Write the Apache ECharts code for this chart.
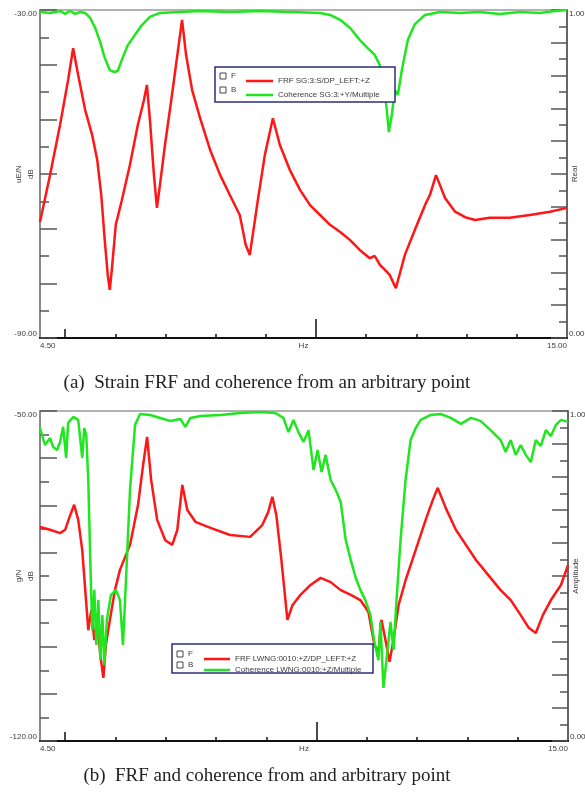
<!DOCTYPE html>
<html><head><meta charset="utf-8">
<script src="https://cdn.jsdelivr.net/npm/echarts@6/dist/echarts.min.js"></script>
<style>html,body{margin:0;padding:0;background:#fff}#c{width:585px;height:795px}</style>
</head><body><div id="c"></div><script>
// ---------- data ----------
const topFrf = [[4.50,-68.8],[4.70,-60.2],[4.90,-51.0],[5.06,-42.8],[5.16,-37.0],[5.26,-41.9],[5.40,-48.3],[5.54,-52.9],[5.64,-57.4],[5.72,-63.8],[5.79,-72.1],[5.85,-78.5],[5.89,-81.2],[5.93,-77.6],[6.01,-69.3],[6.13,-64.8],[6.29,-58.4],[6.45,-51.0],[6.57,-46.5],[6.63,-43.7],[6.69,-50.1],[6.77,-60.2],[6.83,-66.2],[6.89,-62.0],[6.99,-54.7],[7.13,-45.5],[7.25,-37.3],[7.33,-31.8],[7.41,-38.2],[7.53,-44.6],[7.69,-49.8],[7.89,-55.6],[8.09,-60.2],[8.28,-63.8],[8.48,-67.5],[8.60,-73.0],[8.68,-74.8],[8.84,-64.8],[8.98,-56.5],[9.14,-49.8],[9.28,-54.7],[9.48,-59.3],[9.68,-62.9],[9.88,-65.7],[10.08,-67.5],[10.28,-69.3],[10.48,-70.6],[10.68,-72.1],[10.87,-73.9],[11.07,-75.4],[11.17,-75.0],[11.27,-76.6],[11.37,-77.5],[11.47,-78.5],[11.59,-80.9],[11.77,-74.8],[11.97,-70.2],[12.17,-65.7],[12.27,-63.8],[12.39,-60.2],[12.57,-64.4],[12.77,-66.9],[12.97,-67.9],[13.17,-68.4],[13.46,-68.0],[13.86,-68.0],[14.26,-67.5],[14.66,-66.9],[15.00,-66.2]];
const topCoh = [[4.50,0.994],[4.70,0.991],[4.90,0.997],[5.00,0.988],[5.10,0.997],[5.20,0.988],[5.30,0.994],[5.40,0.991],[5.50,0.976],[5.60,0.945],[5.70,0.902],[5.79,0.854],[5.89,0.817],[5.97,0.811],[6.05,0.814],[6.13,0.848],[6.25,0.893],[6.39,0.924],[6.53,0.954],[6.69,0.979],[6.89,0.991],[7.29,0.994],[7.69,0.997],[8.28,0.994],[8.88,0.997],[9.48,0.994],[10.08,0.991],[10.28,0.985],[10.48,0.970],[10.68,0.945],[10.87,0.909],[11.03,0.884],[11.17,0.863],[11.27,0.832],[11.35,0.771],[11.41,0.695],[11.45,0.628],[11.51,0.680],[11.57,0.756],[11.63,0.741],[11.71,0.817],[11.83,0.909],[11.97,0.957],[12.17,0.985],[12.47,0.994],[12.87,0.991],[13.26,0.994],[13.66,0.988],[14.06,0.994],[14.46,0.991],[14.76,0.997],[15.00,1.000]];
const botFrf = [[4.50,-74.6],[4.70,-75.2],[4.90,-75.9],[5.00,-75.2],[5.10,-72.1],[5.18,-69.9],[5.26,-73.1],[5.34,-79.5],[5.40,-88.0],[5.46,-96.5],[5.52,-92.2],[5.58,-98.6],[5.64,-94.3],[5.70,-101.8],[5.76,-106.6],[5.81,-99.6],[5.89,-94.3],[5.99,-88.0],[6.09,-83.7],[6.29,-78.4],[6.45,-69.9],[6.55,-61.5],[6.63,-55.5],[6.71,-64.6],[6.83,-73.1],[6.99,-77.4],[7.13,-78.4],[7.23,-75.2],[7.33,-65.7],[7.43,-71.0],[7.59,-73.5],[7.89,-74.8],[8.28,-76.3],[8.68,-76.7],[8.92,-74.2],[9.04,-71.4],[9.12,-68.2],[9.20,-72.1],[9.30,-81.6],[9.42,-94.3],[9.52,-91.2],[9.68,-89.0],[9.88,-86.9],[10.08,-85.4],[10.28,-86.3],[10.48,-88.0],[10.68,-89.0],[10.87,-90.1],[11.03,-92.6],[11.15,-99.6],[11.23,-101.1],[11.29,-94.3],[11.37,-98.6],[11.45,-103.2],[11.53,-98.6],[11.63,-91.2],[11.77,-85.9],[11.97,-79.5],[12.17,-73.1],[12.31,-68.9],[12.41,-66.3],[12.57,-70.6],[12.77,-75.2],[12.97,-78.4],[13.17,-81.6],[13.46,-85.4],[13.66,-88.0],[13.86,-90.1],[14.06,-93.3],[14.22,-96.0],[14.36,-97.1],[14.50,-93.3],[14.66,-90.1],[14.86,-86.9],[15.00,-82.7]];
const botCoh = [[4.50,0.948],[4.60,0.897],[4.70,0.918],[4.76,0.891],[4.84,0.882],[4.90,0.906],[4.96,0.952],[5.02,0.858],[5.06,0.964],[5.16,0.982],[5.26,0.973],[5.34,0.858],[5.38,0.948],[5.42,0.927],[5.46,0.791],[5.50,0.548],[5.54,0.336],[5.58,0.458],[5.62,0.291],[5.66,0.427],[5.70,0.245],[5.74,0.382],[5.78,0.230],[5.83,0.367],[5.91,0.442],[6.01,0.458],[6.09,0.427],[6.15,0.291],[6.21,0.488],[6.29,0.761],[6.39,0.958],[6.49,0.991],[6.69,0.988],[6.89,0.979],[7.09,0.970],[7.29,0.976],[7.39,0.952],[7.49,0.979],[7.69,0.985],[8.09,0.988],[8.48,0.994],[8.88,0.997],[9.18,0.994],[9.34,0.979],[9.44,0.936],[9.54,0.973],[9.64,0.936],[9.74,0.906],[9.84,0.942],[9.94,0.821],[10.02,0.882],[10.10,0.815],[10.18,0.867],[10.28,0.791],[10.38,0.761],[10.48,0.724],[10.58,0.609],[10.68,0.548],[10.78,0.494],[10.87,0.458],[10.97,0.427],[11.07,0.382],[11.15,0.300],[11.23,0.245],[11.27,0.361],[11.33,0.161],[11.39,0.245],[11.47,0.361],[11.53,0.276],[11.59,0.427],[11.67,0.609],[11.77,0.791],[11.87,0.912],[11.97,0.948],[12.07,0.973],[12.27,0.988],[12.47,0.991],[12.67,0.979],[12.87,0.961],[13.07,0.979],[13.26,0.970],[13.46,0.942],[13.66,0.912],[13.76,0.876],[13.86,0.912],[13.96,0.867],[14.06,0.897],[14.16,0.867],[14.26,0.845],[14.36,0.912],[14.46,0.894],[14.56,0.942],[14.66,0.924],[14.76,0.958],[14.86,0.973],[15.00,0.967]];

const freqRange = [4.5, 15];
const xTickHz = [5, 6, 7, 8, 9, 10, 11, 12, 13, 14];
const xLabelHz = [4.5, 15];
const topDbRange = [-90, -30];
const botDbRange = [-120, -50];
const cohRange = [0, 1];
const topNames = ['FRF SG:3:S/DP_LEFT:+Z', 'Coherence SG:3:+Y/Multiple'];
const botNames = ['FRF LWNG:0010:+Z/DP_LEFT:+Z', 'Coherence LWNG:0010:+Z/Multiple'];
const topUnits = ['uE/N\ndB', 'Real'];
const botUnits = ['g/N\ndB', 'Amplitude'];
const captions = ['(a)  Strain FRF and coherence from an arbitrary point', '(b)  FRF and coherence from and arbitrary point'];

// ---------- styling ----------
const RED = '#ff1616', GREEN = '#1fe61f';
const SANS = 'Liberation Sans, Arial, sans-serif';
const TXT = '#3a3a3a';

function xAxes(g) {
  const base = {type:'value', gridIndex:g, min:freqRange[0], max:freqRange[1], position:'bottom', splitLine:{show:false}};
  return [
    Object.assign({}, base, {
      axisLine:{lineStyle:{color:'#111', width:2}},
      axisTick:{inside:true, length:4, customValues:xTickHz, lineStyle:{color:'#111', width:1.5}},
      axisLabel:{customValues:xLabelHz, formatter:v=>v.toFixed(2), alignMinLabel:'left', alignMaxLabel:'right', fontSize:8, color:TXT, margin:4, fontFamily:SANS},
      name:'Hz', nameLocation:'middle', nameGap:4, nameMoveOverlap:false, nameTextStyle:{fontSize:8, color:TXT, fontFamily:SANS}
    }),
    Object.assign({}, base, {axisLine:{show:false}, axisLabel:{show:false},
      axisTick:{inside:true, length:9, customValues:[5], lineStyle:{color:'#111', width:1.5}}}),
    Object.assign({}, base, {axisLine:{show:false}, axisLabel:{show:false},
      axisTick:{inside:true, length:19, customValues:[10], lineStyle:{color:'#111', width:1.5}}})
  ];
}
function yAxes(g, dbRange, units) {
  return [
    {type:'value', gridIndex:g, min:dbRange[0], max:dbRange[1], interval:10, position:'left',
      axisLine:{show:true, lineStyle:{color:'#8a8a8a', width:2}},
      axisTick:{show:true, inside:true, length:17, lineStyle:{color:'#555', width:1.5}},
      minorTick:{show:true, splitNumber:2, length:9, lineStyle:{color:'#555', width:1.5}},
      axisLabel:{formatter:v=>(v===dbRange[0]||v===dbRange[1])?v.toFixed(2):'', fontSize:8, color:TXT, margin:3, fontFamily:SANS,
        verticalAlignMinLabel:'bottom', verticalAlignMaxLabel:'top'},
      splitLine:{show:false},
      name:units[0], nameLocation:'middle', nameRotate:90, nameGap:3, nameMoveOverlap:false,
      nameTextStyle:{fontSize:8, lineHeight:12, color:TXT, fontFamily:SANS}},
    {type:'value', gridIndex:g, min:cohRange[0], max:cohRange[1], interval:0.1, position:'right',
      axisLine:{show:true, lineStyle:{color:'#666', width:2}},
      axisTick:{show:true, inside:true, length:16, lineStyle:{color:'#555', width:1.5}},
      minorTick:{show:true, splitNumber:2, length:8, lineStyle:{color:'#555', width:1.5}},
      axisLabel:{formatter:v=>(v===cohRange[0]||v===cohRange[1])?v.toFixed(2):'', fontSize:8, color:TXT, margin:2, fontFamily:SANS,
        verticalAlignMinLabel:'bottom', verticalAlignMaxLabel:'top'},
      splitLine:{show:false},
      name:units[1], nameLocation:'middle', nameRotate:90, nameGap:4, nameMoveOverlap:false,
      nameTextStyle:{fontSize:8, color:TXT, fontFamily:SANS}}
  ];
}
function line(name, data, xi, yi, color) {
  return {type:'line', name, data, xAxisIndex:xi, yAxisIndex:yi, showSymbol:false, symbol:'none',
    lineStyle:{color, width:2.5}, itemStyle:{color}, animation:false, silent:true};
}
function legendBox(x, y, w, h, rows) {
  const els = [{type:'rect', shape:{x, y, width:w, height:h}, style:{fill:'#fff', stroke:'#2d2d7d', lineWidth:1.5}, z:50}];
  ['F','B'].forEach((t,i)=>{
    const cy = y + rows[i];
    els.push({type:'rect', shape:{x:x+5, y:cy-3, width:6, height:6}, style:{fill:'#fff', stroke:'#444', lineWidth:1}, z:51});
    els.push({type:'text', x:x+16, y:cy, style:{text:t, fontSize:8, fill:TXT, fontFamily:SANS, verticalAlign:'middle'}, z:51});
  });
  return els;
}

const chart = echarts.init(document.getElementById('c'), null, {renderer:'canvas'});
chart.setOption({
  backgroundColor:'#fff',
  animation:false,
  grid:[
    {left:40, top:10, width:527, height:328, outerBoundsMode:'none', containLabel:false, show:true, borderColor:'#999', borderWidth:1.5, backgroundColor:'transparent'},
    {left:40, top:411, width:528, height:330, outerBoundsMode:'none', containLabel:false, show:true, borderColor:'#999', borderWidth:1.5, backgroundColor:'transparent'}
  ],
  xAxis:[...xAxes(0), ...xAxes(1)],
  yAxis:[...yAxes(0, topDbRange, topUnits), ...yAxes(1, botDbRange, botUnits)],
  legend:[
    {data:topNames, orient:'vertical', left:241, top:71, itemWidth:27, itemHeight:2.5, icon:'rect', itemGap:4, selectedMode:false,
      textStyle:{fontSize:8, lineHeight:10, color:TXT, fontFamily:SANS}, z:60},
    {data:botNames, orient:'vertical', left:199, top:649, itemWidth:26, itemHeight:2.5, icon:'rect', itemGap:1, selectedMode:false,
      textStyle:{fontSize:8, lineHeight:10, color:TXT, fontFamily:SANS}, z:60}
  ],
  series:[
    line(topNames[0], topFrf, 0, 0, RED),
    line(topNames[1], topCoh, 0, 1, GREEN),
    line(botNames[0], botFrf, 3, 2, RED),
    line(botNames[1], botCoh, 3, 3, GREEN)
  ],
  graphic:[
    ...legendBox(215, 67, 180, 35, [9, 23]),
    ...legendBox(172, 644, 201, 29, [10, 21]),
    {type:'text', x:267, y:383, style:{text:captions[0], fontSize:19, fill:'#222', fontFamily:'Liberation Serif, Times New Roman, serif', align:'center', verticalAlign:'middle'}},
    {type:'text', x:267, y:776, style:{text:captions[1], fontSize:19, fill:'#222', fontFamily:'Liberation Serif, Times New Roman, serif', align:'center', verticalAlign:'middle'}}
  ]
});
</script></body></html>
